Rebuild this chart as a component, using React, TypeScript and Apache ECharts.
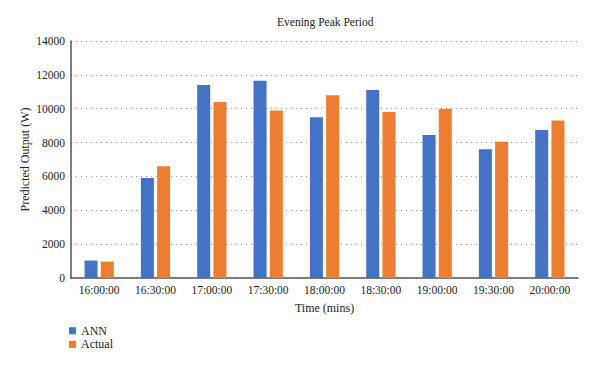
import React, { useEffect, useRef } from "react";
import * as echarts from "echarts";

const categories = ["16:00:00", "16:30:00", "17:00:00", "17:30:00", "18:00:00", "18:30:00", "19:00:00", "19:30:00", "20:00:00"];
const annValues = [1030, 5900, 11400, 11650, 9500, 11100, 8450, 7600, 8750];
const actualValues = [970, 6600, 10400, 9900, 10800, 9800, 10000, 8050, 9300];
const seriesNames = ["ANN", "Actual"];
const colors = ["#4472C4", "#ED7D31"];

const FONT = "Liberation Serif";

export default function App() {
  const ref = useRef<HTMLDivElement>(null);
  useEffect(() => {
    if (!ref.current) return;
    const chart = echarts.init(ref.current, undefined, { renderer: "svg" });
    chart.setOption({
      animation: false,
      backgroundColor: "#ffffff",
      textStyle: { fontFamily: FONT },
      title: {
        text: "Evening Peak Period",
        left: 277,
        top: 16,
        padding: 0,
        textStyle: { fontFamily: FONT, fontSize: 11.5, fontWeight: "normal", color: "#222" },
      },
      legend: {
        orient: "vertical",
        left: 69,
        top: 324,
        itemWidth: 7,
        itemHeight: 7,
        itemGap: 0,
        padding: 0,
        icon: "rect",
        data: seriesNames,
        textStyle: { fontFamily: FONT, fontSize: 12, color: "#222", lineHeight: 13.6 },
      },
      grid: { left: 71, right: 22, top: 41, bottom: 91, containLabel: false },
      xAxis: {
        type: "category",
        data: categories,
        name: "Time (mins)",
        nameLocation: "middle",
        nameGap: 24,
        nameMoveOverlap: false,
        nameTextStyle: { fontFamily: FONT, fontSize: 12, color: "#222" },
        axisLine: { lineStyle: { color: "#555", width: 1.5 } },
        axisTick: { show: false },
        axisLabel: { fontFamily: FONT, fontSize: 11.5, color: "#222", margin: 6 },
      },
      yAxis: {
        type: "value",
        min: 0,
        max: 14000,
        interval: 2000,
        name: "Predicted Output (W)",
        nameLocation: "middle",
        nameGap: 40,
        nameMoveOverlap: false,
        nameTextStyle: { fontFamily: FONT, fontSize: 12, color: "#222" },
        axisLine: { show: true, lineStyle: { color: "#555", width: 1.5 } },
        axisTick: { show: false },
        axisLabel: { fontFamily: FONT, fontSize: 11.5, color: "#222", margin: 6, formatter: (v: number) => String(v) },
        splitLine: { lineStyle: { color: "#999", type: [1, 4], width: 1 } },
      },
      series: [
        {
          name: seriesNames[0],
          type: "bar",
          data: annValues,
          barWidth: 13,
          barGap: "25%",
          itemStyle: { color: colors[0] },
        },
        {
          name: seriesNames[1],
          type: "bar",
          data: actualValues,
          barWidth: 13,
          barGap: "25%",
          itemStyle: { color: colors[1] },
        },
      ],
    });
    return () => chart.dispose();
  }, []);
  return <div ref={ref} style={{ position: "absolute", left: 0, top: 0, width: 600, height: 369 }} />;
}
